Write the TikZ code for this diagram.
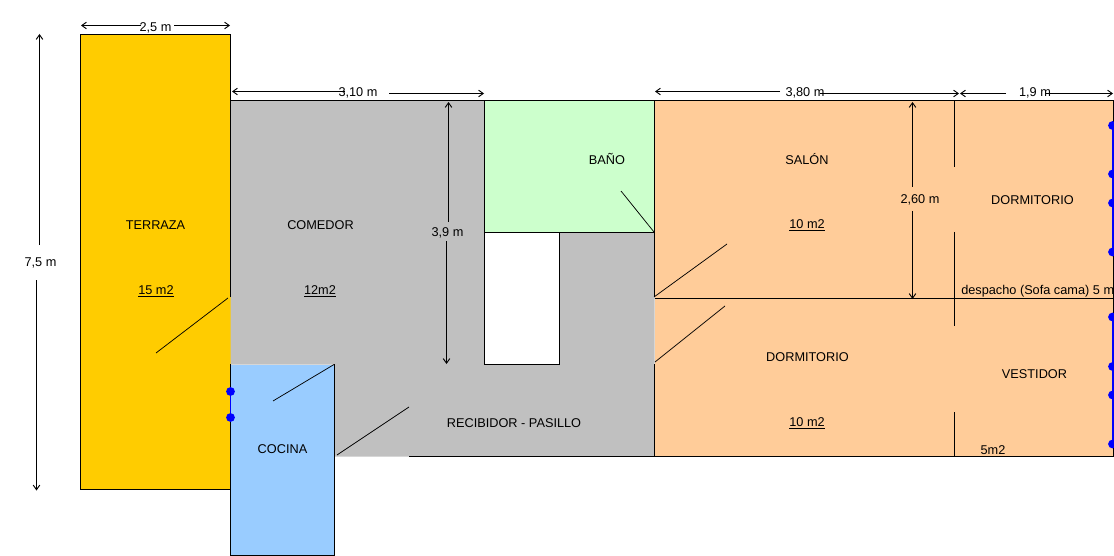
\documentclass[tikz,border=0pt]{standalone}
\usepackage{fontspec}
\setmainfont{Liberation Sans}
\usetikzlibrary{arrows.meta}
\definecolor{terraza}{HTML}{FFCC00}
\definecolor{pasillo}{HTML}{C0C0C0}
\definecolor{bano}{HTML}{CCFFCC}
\definecolor{cocina}{HTML}{99CCFF}
\definecolor{salon}{HTML}{FFCC99}
\definecolor{ventana}{HTML}{0000FF}

\begin{document}
\begin{tikzpicture}[x=0.75pt, y=-0.75pt, font=\fontsize{9.55pt}{11pt}\selectfont]
    \tikzstyle{wall}  = [draw = black, line width = 0.75pt]
    \tikzstyle{door}  = [draw = black, line width = 0.55pt]
    \tikzstyle{dim}   = [draw = black, line width = 0.7pt, -{Straight Barb[length=3.5pt,width=5pt]}]
    \tikzstyle{glass} = [draw = ventana, line width = 1pt]
    \tikzstyle{knob}  = [circle, fill = ventana, inner sep = 0pt, minimum size = 6.6pt]
    \tikzstyle{room}  = [inner sep = 0pt, anchor = center, yshift = -0.5pt]

    \useasboundingbox (0,0) rectangle (1114,556);

    % Fills
    \fill[terraza] (80.5,34.5) rectangle (230.5,489.5);
    \fill[salon] (654.5,100.5) rectangle (1113.5,456.5);
    \fill[pasillo] (230.5,100.5) -- (484.5,100.5) -- (484.5,364.5) -- (559.5,364.5) -- (559.5,232.5) -- (654.5,232.5) -- (654.5,456.5) -- (334.5,456.5) -- (334.5,364.5) -- (230.5,364.5) -- cycle;
    \fill[bano] (484.5,100.5) rectangle (654.5,232.5);
    \fill[cocina] (230.5,364.5) rectangle (334.5,555.5);

    % Walls
    \draw[wall] (230.5,297) -- (230.5,34.5) -- (80.5,34.5) -- (80.5,489.5) -- (230.5,489.5);
    \draw[wall] (230.5,100.5) -- (654.5,100.5) -- (654.5,297);
    \draw[wall] (484.5,100.5) -- (484.5,364.5) -- (559.5,364.5) -- (559.5,232.5);
    \draw[wall] (484.5,232.5) -- (654.5,232.5);
    \draw[wall] (230.5,364) -- (230.5,555.5) -- (334.5,555.5) -- (334.5,364);
    \draw[wall] (409,456.5) -- (1113.5,456.5);
    \draw[wall] (654.5,364) -- (654.5,456.5);
    \draw[wall] (654.5,298.5) -- (1113.5,298.5);
    \draw[wall] (654.5,100.5) -- (1113.5,100.5) -- (1113.5,456.5);
    \draw[wall] (954.5,100.5) -- (954.5,167);
    \draw[wall] (954.5,232) -- (954.5,326);
    \draw[wall] (954.5,412) -- (954.5,456.5);

    % Doors
    \draw[door] (228,298) -- (156,353);
    \draw[door] (334,364.5) -- (273,401);
    \draw[door] (409,407) -- (337,455);
    \draw[door] (654,232) -- (621,191);
    \draw[door] (654,297) -- (727,244);
    \draw[door] (655,362) -- (725,306);

    % Windows
    \draw[glass] (230.5,391) -- (230.5,417);
    \draw[glass] (1113,125) -- (1113,252);
    \draw[glass] (1113,317) -- (1113,444);
    \node[knob] (k1) at (230.5,391.5) {};
    \node[knob] (k2) at (230.5,417.5) {};
    \node[knob] (k3) at (1112.5,125.5) {};
    \node[knob] (k4) at (1112.5,174) {};
    \node[knob] (k5) at (1112.5,203) {};
    \node[knob] (k6) at (1112.5,252) {};
    \node[knob] (k7) at (1112.5,317) {};
    \node[knob] (k8) at (1112.5,366.5) {};
    \node[knob] (k9) at (1112.5,395) {};
    \node[knob] (k10) at (1112.5,444) {};

    % Room names
    \node[room] (terrazaN) at (155.5,224.5) {TERRAZA};
    \node[room] (terrazaA) at (156,291) {\underline{15 m2}};
    \node[room] (comedorN) at (320.5,224.5) {COMEDOR};
    \node[room] (comedorA) at (320,291) {\underline{12m2}};
    \node[room] (cocinaN) at (282.5,448.5) {COCINA};
    \node[room] (pasilloN) at (514,422.5) {RECIBIDOR - PASILLO};
    \node[room] (banoN) at (607,158) {BAÑO};
    \node[room] (salonN) at (807,158) {SALÓN};
    \node[room] (salonA) at (807,225) {\underline{10 m2}};
    \node[room] (dorm1N) at (1032.5,199.5) {DORMITORIO};
    \node[room] (dorm2N) at (807.5,356.5) {DORMITORIO};
    \node[room] (dorm2A) at (807,423) {\underline{10 m2}};
    \node[room] (vestidorN) at (1034.5,373.5) {VESTIDOR};
    \node[room] (vestidorA) at (993,449) {5m2};
    \node[room, anchor = west] (despacho) at (961,291) {despacho (Sofa cama) 5 m};

    % Dimensions
    \node[room] (d25) at (155.5,27) {2,5 m};
    \node[room] (d310) at (358,92.5) {3,10 m};
    \node[room] (d380) at (805,92.5) {3,80 m};
    \node[room] (d19) at (1035,92.5) {1,9 m};
    \node[room] (d75) at (40.5,262) {7,5 m};
    \node[room] (d39) at (447.5,232.5) {3,9 m};
    \node[room] (d260) at (920,199.5) {2,60 m};

    \coordinate (d25a) at (81,25.5);   \coordinate (d25b) at (141,25.5);
    \coordinate (d25c) at (174,25.5);  \coordinate (d25d) at (230,25.5);
    \coordinate (d310a) at (232,91.5);   \coordinate (d310b) at (345,91.5);
    \coordinate (d310c) at (389,93.5); \coordinate (d310d) at (484,93.5);
    \coordinate (d380a) at (655,91.5);   \coordinate (d380b) at (780,91.5);
    \coordinate (d380c) at (820,93.5); \coordinate (d380d) at (959,93.5);
    \coordinate (d19a) at (960,93.5);  \coordinate (d19b) at (1006,93.5);
    \coordinate (d19c) at (1046,93.5); \coordinate (d19d) at (1113,93.5);
    \coordinate (d75a) at (39.5,34);   \coordinate (d75b) at (39.5,245);
    \coordinate (d75c) at (36.5,280);  \coordinate (d75d) at (36.5,490.5);
    \coordinate (d39a) at (448.5,102); \coordinate (d39b) at (448.5,222);
    \coordinate (d39c) at (446.5,241); \coordinate (d39d) at (446.5,364);
    \coordinate (d260a) at (912.5,102); \coordinate (d260b) at (912.5,187);
    \coordinate (d260c) at (912.5,211); \coordinate (d260d) at (912.5,299);

    \draw[dim] (d25b) -- (d25a);
    \draw[dim] (d25c) -- (d25d);
    \draw[dim] (d310b) -- (d310a);
    \draw[dim] (d310c) -- (d310d);
    \draw[dim] (d380b) -- (d380a);
    \draw[dim] (d380c) -- (d380d);
    \draw[dim] (d19b) -- (d19a);
    \draw[dim] (d19c) -- (d19d);
    \draw[dim] (d75b) -- (d75a);
    \draw[dim] (d75c) -- (d75d);
    \draw[dim] (d39b) -- (d39a);
    \draw[dim] (d39c) -- (d39d);
    \draw[dim] (d260b) -- (d260a);
    \draw[dim] (d260c) -- (d260d);
\end{tikzpicture}
\end{document}
